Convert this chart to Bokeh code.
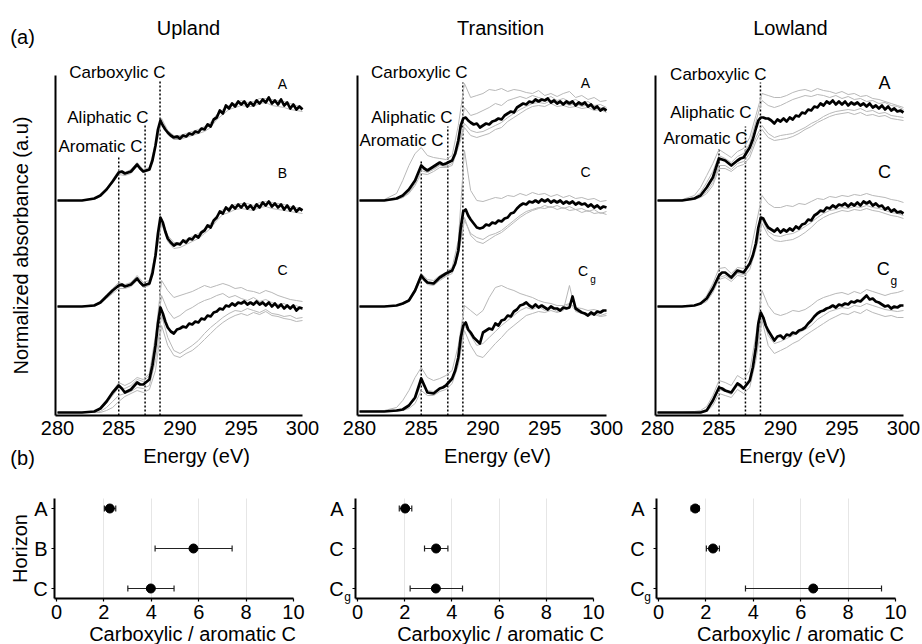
import math
from bokeh.plotting import figure
from bokeh.models import Label, FixedTicker, Whisker, TeeHead, ColumnDataSource, Range1d, Grid
from bokeh.layouts import row, column
from bokeh.embed import file_html
from bokeh.resources import INLINE

FONT = "Liberation Sans"

# ---------------- data: spectra (x = energy, eV; y = offset normalized absorbance) -------------
E_BLACK = [280, 281, 282, 283, 283.5, 284, 284.5, 285, 285.25, 285.5, 286,
           286.5, 286.75, 287, 287.5, 287.75, 288, 288.2, 288.4, 288.6, 288.8, 289,
           289.25, 289.5, 289.75, 290, 290.25, 290.5, 290.75, 291, 291.25, 291.5, 291.75, 292,
           292.25, 292.5, 292.75, 293, 293.25, 293.5, 293.75, 294, 294.25, 294.5, 294.75, 295,
           295.25, 295.5, 295.75, 296, 296.25, 296.5, 296.75, 297, 297.25, 297.5, 297.75, 298,
           298.25, 298.5, 298.75, 299, 299.25, 299.5, 299.75, 300]
E_GREY = [280, 282, 283, 283.5, 284, 284.5, 285, 285.5, 286,
          286.5, 287, 287.5, 288, 288.5, 289, 289.5, 290,
          290.5, 291, 291.5, 292, 292.5, 293, 293.5, 294, 294.5, 295,
          295.5, 296, 296.5, 297, 297.5, 298, 298.5, 299, 299.5, 300]

UP_A = [2.15, 2.15, 2.15, 2.17, 2.20, 2.26, 2.34, 2.43, 2.44, 2.42, 2.44,
        2.51, 2.47, 2.44, 2.46, 2.55, 2.70, 2.86, 2.95, 2.90, 2.86, 2.83,
        2.80, 2.78, 2.79, 2.77, 2.80, 2.79, 2.82, 2.81, 2.84, 2.83, 2.87, 2.86,
        2.91, 2.89, 2.96, 2.98, 3.05, 3.02, 3.10, 3.07, 3.12, 3.09, 3.14, 3.11,
        3.14, 3.09, 3.13, 3.10, 3.15, 3.12, 3.16, 3.13, 3.18, 3.12, 3.15, 3.11,
        3.16, 3.10, 3.13, 3.07, 3.11, 3.06, 3.09, 3.06]
UP_B = [1.09, 1.09, 1.09, 1.10, 1.13, 1.19, 1.25, 1.30, 1.31, 1.29, 1.31,
        1.37, 1.33, 1.30, 1.32, 1.42, 1.60, 1.82, 1.98, 1.93, 1.84, 1.77,
        1.73, 1.70, 1.72, 1.71, 1.75, 1.73, 1.77, 1.76, 1.80, 1.78, 1.83, 1.85,
        1.90, 1.88, 1.95, 1.98, 2.04, 2.02, 2.08, 2.05, 2.10, 2.07, 2.11, 2.08,
        2.12, 2.07, 2.10, 2.06, 2.11, 2.08, 2.13, 2.10, 2.14, 2.09, 2.12, 2.08,
        2.11, 2.06, 2.10, 2.05, 2.09, 2.04, 2.07, 2.05]
UP_C = [0.03, 0.03, 0.03, 0.04, 0.07, 0.14, 0.23, 0.30, 0.27, 0.23, 0.26,
        0.33, 0.31, 0.31, 0.36, 0.50, 0.70, 0.92, 1.08, 1.02, 0.94, 0.88,
        0.84, 0.82, 0.86, 0.87, 0.89, 0.88, 0.92, 0.91, 0.94, 0.93, 0.97, 0.96,
        1.00, 0.99, 1.03, 1.04, 1.07, 1.06, 1.10, 1.09, 1.12, 1.10, 1.13, 1.12,
        1.14, 1.11, 1.13, 1.11, 1.14, 1.11, 1.13, 1.10, 1.13, 1.09, 1.12, 1.08,
        1.11, 1.07, 1.10, 1.07, 1.10, 1.05, 1.08, 1.07]
TR_A = [2.15, 2.15, 2.15, 2.17, 2.20, 2.26, 2.35, 2.50, 2.47, 2.45, 2.49,
        2.53, 2.51, 2.52, 2.55, 2.62, 2.75, 2.90, 2.97, 2.98, 2.95, 2.93,
        2.91, 2.92, 2.88, 2.90, 2.92, 2.91, 2.94, 2.95, 2.97, 2.96, 3.00, 3.02,
        3.04, 3.03, 3.08, 3.10, 3.12, 3.11, 3.14, 3.13, 3.16, 3.14, 3.16, 3.15,
        3.17, 3.13, 3.15, 3.12, 3.14, 3.11, 3.14, 3.12, 3.14, 3.10, 3.13, 3.11,
        3.13, 3.09, 3.11, 3.07, 3.09, 3.05, 3.07, 3.05]
TR_C = [1.09, 1.09, 1.09, 1.10, 1.12, 1.15, 1.25, 1.40, 1.36, 1.33, 1.32,
        1.38, 1.40, 1.42, 1.45, 1.52, 1.65, 1.88, 2.04, 2.06, 2.00, 1.96,
        1.92, 1.88, 1.87, 1.88, 1.91, 1.90, 1.93, 1.92, 1.95, 1.94, 1.97, 1.98,
        2.02, 2.03, 2.07, 2.10, 2.12, 2.11, 2.14, 2.13, 2.15, 2.13, 2.16, 2.14,
        2.16, 2.13, 2.15, 2.13, 2.15, 2.12, 2.14, 2.12, 2.14, 2.11, 2.13, 2.11,
        2.12, 2.09, 2.11, 2.08, 2.10, 2.07, 2.09, 2.08]
TR_CG = [0.04, 0.04, 0.04, 0.05, 0.06, 0.10, 0.18, 0.37, 0.30, 0.23, 0.22,
         0.27, 0.28, 0.30, 0.37, 0.45, 0.58, 0.78, 0.90, 0.93, 0.86, 0.83,
         0.78, 0.75, 0.72, 0.83, 0.85, 0.87, 0.86, 0.92, 0.90, 0.95, 0.96, 1.00,
         0.99, 1.04, 1.06, 1.10, 1.11, 1.13, 1.10, 1.08, 1.11, 1.08, 1.10, 1.08,
         1.06, 1.09, 1.07, 1.07, 1.05, 1.08, 1.07, 1.08, 1.19, 1.07, 1.05, 1.03,
         1.02, 1.00, 1.03, 1.01, 1.04, 1.03, 1.05, 1.05]
LO_A = [2.15, 2.15, 2.15, 2.17, 2.20, 2.28, 2.38, 2.57, 2.56, 2.55, 2.50,
        2.55, 2.57, 2.58, 2.68, 2.76, 2.87, 2.95, 2.98, 2.98, 2.97, 2.97,
        2.95, 2.92, 2.96, 2.94, 2.97, 2.94, 2.98, 2.96, 3.00, 2.99, 3.03, 3.02,
        3.06, 3.05, 3.09, 3.08, 3.12, 3.10, 3.14, 3.12, 3.15, 3.11, 3.14, 3.11,
        3.14, 3.10, 3.13, 3.11, 3.13, 3.10, 3.12, 3.09, 3.12, 3.08, 3.10, 3.07,
        3.10, 3.06, 3.09, 3.05, 3.07, 3.04, 3.05, 3.03]
LO_C = [1.09, 1.09, 1.09, 1.10, 1.12, 1.17, 1.27, 1.40, 1.43, 1.43, 1.38,
        1.45, 1.44, 1.43, 1.52, 1.60, 1.72, 1.88, 1.98, 1.97, 1.92, 1.88,
        1.86, 1.84, 1.87, 1.83, 1.86, 1.84, 1.87, 1.85, 1.89, 1.87, 1.91, 1.92,
        1.96, 1.95, 2.00, 2.02, 2.05, 2.04, 2.08, 2.07, 2.10, 2.08, 2.11, 2.10,
        2.12, 2.09, 2.12, 2.10, 2.13, 2.10, 2.14, 2.12, 2.14, 2.10, 2.12, 2.09,
        2.10, 2.06, 2.08, 2.04, 2.06, 2.03, 2.04, 2.02]
LO_CG = [0.03, 0.03, 0.03, 0.03, 0.03, 0.05, 0.15, 0.28, 0.27, 0.25, 0.23,
         0.32, 0.30, 0.27, 0.35, 0.48, 0.68, 0.92, 1.03, 0.98, 0.90, 0.85,
         0.80, 0.75, 0.79, 0.80, 0.77, 0.81, 0.80, 0.83, 0.82, 0.85, 0.86, 0.88,
         0.92, 0.95, 0.99, 1.02, 1.04, 1.05, 1.07, 1.08, 1.10, 1.08, 1.11, 1.10,
         1.12, 1.11, 1.14, 1.13, 1.15, 1.14, 1.17, 1.20, 1.16, 1.17, 1.14, 1.13,
         1.11, 1.09, 1.10, 1.07, 1.09, 1.08, 1.10, 1.10]

# individual replicate spectra (grey), on E_GREY
UP_A_GREY = [
    [2.15, 2.15, 2.17, 2.21, 2.27, 2.36, 2.45, 2.43, 2.46,
     2.53, 2.46, 2.48, 2.72, 2.97, 2.85, 2.80, 2.80,
     2.82, 2.84, 2.86, 2.89, 2.93, 3.01, 3.06, 3.10, 3.12, 3.15,
     3.13, 3.14, 3.17, 3.17, 3.16, 3.15, 3.14, 3.12, 3.10, 3.08],
    [2.15, 2.15, 2.16, 2.19, 2.25, 2.33, 2.41, 2.40, 2.42,
     2.49, 2.43, 2.45, 2.68, 2.93, 2.81, 2.76, 2.76,
     2.78, 2.80, 2.82, 2.84, 2.88, 2.96, 3.01, 3.06, 3.08, 3.10,
     3.09, 3.09, 3.12, 3.13, 3.10, 3.09, 3.08, 3.06, 3.05, 3.04]]
UP_B_GREY = [
    [1.09, 1.09, 1.11, 1.14, 1.21, 1.27, 1.33, 1.31, 1.33,
     1.40, 1.33, 1.35, 1.63, 1.97, 1.80, 1.73, 1.73,
     1.76, 1.79, 1.82, 1.87, 1.92, 2.00, 2.06, 2.08, 2.11, 2.12,
     2.12, 2.10, 2.13, 2.14, 2.13, 2.12, 2.11, 2.09, 2.08, 2.07],
    [1.09, 1.09, 1.10, 1.12, 1.17, 1.22, 1.27, 1.27, 1.29,
     1.35, 1.28, 1.30, 1.57, 1.92, 1.74, 1.67, 1.68,
     1.71, 1.74, 1.77, 1.82, 1.87, 1.95, 2.01, 2.03, 2.06, 2.07,
     2.06, 2.05, 2.08, 2.09, 2.07, 2.06, 2.05, 2.04, 2.03, 2.02]]
UP_C_GREY = [
    [0.03, 0.03, 0.04, 0.07, 0.14, 0.24, 0.33, 0.30, 0.33,
     0.38, 0.36, 0.42, 0.80, 1.35, 1.25, 1.18, 1.20,
     1.22, 1.24, 1.27, 1.30, 1.28, 1.30, 1.32, 1.30, 1.27, 1.28,
     1.25, 1.24, 1.22, 1.25, 1.23, 1.20, 1.18, 1.16, 1.15, 1.14],
    [0.03, 0.03, 0.04, 0.06, 0.12, 0.20, 0.28, 0.27, 0.30,
     0.36, 0.34, 0.40, 0.75, 1.20, 1.05, 0.97, 1.00,
     1.05, 1.08, 1.12, 1.15, 1.17, 1.20, 1.22, 1.18, 1.20, 1.17,
     1.15, 1.18, 1.14, 1.16, 1.13, 1.11, 1.12, 1.08, 1.10, 1.06],
    [0.03, 0.03, 0.03, 0.04, 0.08, 0.14, 0.20, 0.22, 0.24,
     0.28, 0.27, 0.30, 0.55, 1.00, 0.78, 0.65, 0.62,
     0.66, 0.70, 0.75, 0.82, 0.88, 0.93, 0.98, 1.02, 1.05, 1.04,
     1.07, 1.05, 1.03, 1.06, 1.02, 1.01, 0.99, 1.00, 0.97, 0.98],
    [0.03, 0.03, 0.03, 0.03, 0.05, 0.08, 0.14, 0.19, 0.22,
     0.25, 0.23, 0.26, 0.45, 0.90, 0.70, 0.60, 0.58,
     0.62, 0.65, 0.70, 0.76, 0.82, 0.88, 0.93, 0.97, 1.00, 1.02,
     1.00, 1.03, 1.01, 1.04, 1.00, 0.99, 0.97, 0.96, 0.94, 0.95]]
TR_A_GREY = [
    [2.15, 2.16, 2.22, 2.35, 2.50, 2.62, 2.68, 2.60, 2.58,
     2.57, 2.56, 2.60, 2.90, 3.32, 3.18, 3.20, 3.22,
     3.26, 3.25, 3.27, 3.24, 3.26, 3.25, 3.23, 3.22, 3.25, 3.20,
     3.22, 3.19, 3.22, 3.24, 3.18, 3.20, 3.16, 3.18, 3.14, 3.15],
    [2.15, 2.15, 2.17, 2.20, 2.26, 2.35, 2.47, 2.45, 2.47,
     2.51, 2.50, 2.55, 2.74, 3.08, 3.00, 3.02, 3.05,
     3.08, 3.12, 3.10, 3.15, 3.17, 3.19, 3.17, 3.20, 3.18, 3.16,
     3.19, 3.15, 3.17, 3.14, 3.16, 3.12, 3.14, 3.10, 3.11, 3.08],
    [2.15, 2.15, 2.16, 2.18, 2.23, 2.32, 2.45, 2.43, 2.46,
     2.50, 2.49, 2.52, 2.70, 2.92, 2.85, 2.83, 2.84,
     2.87, 2.90, 2.93, 2.98, 3.02, 3.06, 3.09, 3.12, 3.13, 3.12,
     3.15, 3.12, 3.13, 3.10, 3.12, 3.09, 3.11, 3.06, 3.08, 3.05],
    [2.15, 2.15, 2.16, 2.18, 2.22, 2.30, 2.42, 2.41, 2.44,
     2.48, 2.48, 2.50, 2.68, 2.88, 2.80, 2.78, 2.80,
     2.82, 2.86, 2.88, 2.94, 2.98, 3.02, 3.06, 3.09, 3.10, 3.09,
     3.12, 3.09, 3.10, 3.08, 3.09, 3.07, 3.08, 3.05, 3.06, 3.03]]
TR_C_GREY = [
    [1.09, 1.09, 1.10, 1.12, 1.16, 1.27, 1.42, 1.36, 1.35,
     1.40, 1.43, 1.48, 1.75, 2.65, 2.25, 2.15, 2.14,
     2.16, 2.18, 2.17, 2.20, 2.19, 2.22, 2.20, 2.23, 2.21, 2.22,
     2.19, 2.21, 2.18, 2.20, 2.17, 2.18, 2.16, 2.17, 2.14, 2.15],
    [1.09, 1.09, 1.10, 1.11, 1.14, 1.23, 1.37, 1.31, 1.30,
     1.35, 1.39, 1.42, 1.60, 1.95, 1.82, 1.78, 1.76,
     1.80, 1.82, 1.85, 1.90, 1.95, 2.00, 2.04, 2.06, 2.08, 2.07,
     2.09, 2.06, 2.08, 2.05, 2.06, 2.03, 2.05, 2.02, 2.03, 2.01],
    [1.09, 1.09, 1.10, 1.11, 1.15, 1.24, 1.38, 1.32, 1.31,
     1.36, 1.40, 1.44, 1.62, 1.98, 1.80, 1.74, 1.72,
     1.76, 1.80, 1.83, 1.88, 1.93, 1.98, 2.02, 2.05, 2.07, 2.10,
     2.08, 2.10, 2.07, 2.09, 2.06, 2.07, 2.04, 2.06, 2.02, 2.04]]
TR_CG_GREY = [
    [0.04, 0.05, 0.08, 0.15, 0.25, 0.38, 0.48, 0.38, 0.35,
     0.37, 0.40, 0.45, 0.70, 1.10, 1.05, 1.00, 1.05,
     1.18, 1.28, 1.30, 1.27, 1.25, 1.22, 1.20, 1.18, 1.15, 1.13,
     1.12, 1.10, 1.10, 1.12, 1.08, 1.07, 1.05, 1.06, 1.04, 1.05],
    [0.04, 0.04, 0.04, 0.05, 0.07, 0.12, 0.25, 0.20, 0.20,
     0.24, 0.26, 0.32, 0.50, 0.85, 0.70, 0.60, 0.58,
     0.65, 0.72, 0.78, 0.85, 0.90, 0.95, 1.00, 1.02, 1.04, 1.03,
     1.05, 1.03, 1.05, 1.30, 1.04, 1.02, 1.00, 1.01, 0.99, 1.00],
    [0.04, 0.04, 0.05, 0.06, 0.09, 0.16, 0.32, 0.25, 0.24,
     0.28, 0.30, 0.35, 0.55, 0.90, 0.80, 0.70, 0.72,
     0.78, 0.84, 0.90, 0.95, 1.00, 1.05, 1.08, 1.06, 1.09, 1.05,
     1.08, 1.04, 1.07, 1.12, 1.05, 1.03, 1.01, 1.03, 1.00, 1.02]]
LO_A_GREY = [
    [2.15, 2.16, 2.20, 2.28, 2.40, 2.52, 2.66, 2.62, 2.58,
     2.64, 2.67, 2.78, 3.00, 3.22, 3.20, 3.18, 3.18,
     3.20, 3.23, 3.25, 3.26, 3.24, 3.27, 3.25, 3.24, 3.22, 3.24,
     3.21, 3.22, 3.19, 3.20, 3.17, 3.16, 3.14, 3.12, 3.10, 3.08],
    [2.15, 2.15, 2.18, 2.23, 2.33, 2.44, 2.60, 2.57, 2.53,
     2.59, 2.62, 2.72, 2.94, 3.15, 3.10, 3.08, 3.10,
     3.13, 3.16, 3.18, 3.20, 3.19, 3.21, 3.20, 3.18, 3.20, 3.17,
     3.19, 3.16, 3.17, 3.14, 3.15, 3.12, 3.13, 3.10, 3.09, 3.06],
    [2.15, 2.15, 2.16, 2.19, 2.24, 2.33, 2.50, 2.50, 2.46,
     2.52, 2.54, 2.62, 2.78, 2.90, 2.82, 2.78, 2.80,
     2.81, 2.82, 2.85, 2.88, 2.92, 2.95, 2.99, 3.02, 3.04, 3.05,
     3.06, 3.05, 3.07, 3.04, 3.05, 3.02, 3.03, 3.00, 2.99, 2.98],
    [2.15, 2.15, 2.16, 2.18, 2.22, 2.30, 2.47, 2.47, 2.44,
     2.49, 2.51, 2.58, 2.74, 2.86, 2.78, 2.75, 2.76,
     2.77, 2.79, 2.82, 2.86, 2.89, 2.93, 2.96, 2.99, 3.01, 3.02,
     3.03, 3.01, 3.03, 3.00, 3.01, 2.99, 3.00, 2.97, 2.96, 2.95]]
LO_C_GREY = [
    [1.09, 1.09, 1.10, 1.13, 1.20, 1.32, 1.47, 1.48, 1.42,
     1.48, 1.47, 1.60, 1.90, 2.20, 2.12, 2.08, 2.08,
     2.10, 2.09, 2.12, 2.11, 2.14, 2.17, 2.16, 2.19, 2.18, 2.20,
     2.19, 2.21, 2.20, 2.22, 2.20, 2.19, 2.18, 2.16, 2.15, 2.13],
    [1.09, 1.09, 1.10, 1.11, 1.14, 1.23, 1.36, 1.38, 1.34,
     1.40, 1.39, 1.46, 1.66, 1.92, 1.80, 1.75, 1.74,
     1.75, 1.76, 1.79, 1.83, 1.88, 1.94, 1.98, 2.01, 2.03, 2.05,
     2.04, 2.06, 2.05, 2.07, 2.05, 2.04, 2.02, 2.00, 1.99, 1.97],
    [1.09, 1.09, 1.10, 1.12, 1.16, 1.26, 1.38, 1.40, 1.36,
     1.42, 1.41, 1.50, 1.70, 1.96, 1.84, 1.80, 1.79,
     1.81, 1.82, 1.85, 1.89, 1.93, 1.98, 2.02, 2.05, 2.06, 2.08,
     2.07, 2.09, 2.08, 2.10, 2.08, 2.07, 2.05, 2.03, 2.02, 2.00]]
LO_CG_GREY = [
    [0.03, 0.03, 0.04, 0.05, 0.09, 0.20, 0.35, 0.33, 0.30,
     0.40, 0.36, 0.45, 0.80, 1.25, 1.10, 1.02, 1.00,
     1.02, 1.05, 1.04, 1.06, 1.10, 1.15, 1.18, 1.20, 1.22, 1.23,
     1.21, 1.24, 1.22, 1.26, 1.24, 1.22, 1.20, 1.22, 1.23, 1.25],
    [0.03, 0.03, 0.03, 0.03, 0.04, 0.10, 0.22, 0.20, 0.18,
     0.26, 0.22, 0.28, 0.55, 0.95, 0.70, 0.62, 0.65,
     0.68, 0.72, 0.75, 0.80, 0.84, 0.88, 0.92, 0.96, 0.99, 1.02,
     1.01, 1.04, 1.02, 1.06, 1.03, 1.01, 0.99, 1.00, 0.98, 0.98],
    [0.03, 0.03, 0.03, 0.04, 0.06, 0.13, 0.26, 0.24, 0.21,
     0.30, 0.26, 0.33, 0.62, 1.00, 0.80, 0.72, 0.74,
     0.77, 0.80, 0.83, 0.86, 0.90, 0.96, 1.00, 1.04, 1.06, 1.08,
     1.07, 1.10, 1.09, 1.12, 1.10, 1.08, 1.06, 1.05, 1.04, 1.05]]

PEAK_ENERGY = [285.0, 287.15, 288.37]          # aromatic, aliphatic, carboxylic C
ENERGY_TICKS = [280, 285, 290, 295, 300]

# ---------------- data: carboxylic / aromatic C ratio ----------------
UP_HORIZON = ["A", "B", "C"]
UP_RATIO = [2.25, 5.78, 3.98]
UP_LOW = [2.02, 4.16, 3.01]
UP_HIGH = [2.50, 7.41, 4.96]
TR_HORIZON = ["A", "C", "Cg"]
TR_RATIO = [2.02, 3.33, 3.32]
TR_LOW = [1.77, 2.84, 2.23]
TR_HIGH = [2.30, 3.83, 4.45]
LO_HORIZON = ["A", "C", "Cg"]
LO_RATIO = [1.55, 2.30, 6.53]
LO_LOW = [1.38, 2.02, 3.67]
LO_HIGH = [1.72, 2.57, 9.41]
RATIO_TICKS = [0, 2, 4, 6, 8, 10]

for s in [UP_A, UP_B, UP_C, TR_A, TR_C, TR_CG, LO_A, LO_C, LO_CG]:
    assert len(s) == len(E_BLACK), len(s)
for g in [UP_A_GREY, UP_B_GREY, UP_C_GREY, TR_A_GREY, TR_C_GREY, TR_CG_GREY,
          LO_A_GREY, LO_C_GREY, LO_CG_GREY]:
    for s in g:
        assert len(s) == len(E_GREY), len(s)


def lab(p, text, x, y, size, align="center", angle=0.0):
    p.add_layout(Label(x=x, y=y, text=text, text_font=FONT, text_font_size=size,
                       text_align=align, text_baseline="middle", angle=angle,
                       text_color="black"))


def base_fig(width, height, xr, yr):
    p = figure(width=width, height=height, x_range=Range1d(*xr), y_range=Range1d(*yr),
               output_backend="svg", toolbar_location=None)
    p.min_border_left = 0
    p.min_border_right = 0
    p.min_border_top = 0
    p.min_border_bottom = 0
    p.outline_line_color = None
    p.background_fill_color = "white"
    p.border_fill_color = "white"
    return p


def spectra_panel(width, xr, blacks, greys, tops, texts):
    p = base_fig(width, 480, xr, (-0.65, 4.15))
    p.xgrid.visible = False
    p.ygrid.visible = False
    ax = p.xaxis[0]
    ax.fixed_location = 0
    ax.bounds = (279.8, 300)
    ax.ticker = FixedTicker(ticks=ENERGY_TICKS)
    ax.major_tick_in = 0
    ax.major_tick_out = 0
    ax.minor_tick_in = 0
    ax.minor_tick_out = 0
    ax.minor_tick_line_color = None
    ax.major_label_text_font = FONT
    ax.major_label_text_font_size = "20px"
    ax.major_label_text_color = "black"
    ax.major_label_standoff = 5
    ax.axis_line_width = 2
    ax.axis_line_color = "black"
    ay = p.yaxis[0]
    ay.fixed_location = 279.8
    ay.bounds = (0, 3.4)
    ay.ticker = FixedTicker(ticks=[])
    ay.major_tick_line_color = None
    ay.minor_tick_line_color = None
    ay.axis_line_width = 2
    ay.axis_line_color = "black"

    p.segment(x0=PEAK_ENERGY, y0=[0, 0, 0], x1=PEAK_ENERGY, y1=tops,
              line_color="black", line_width=1.5, line_dash="2 2")
    for group in greys:
        for s in group:
            p.line(E_GREY, s, line_color="#b8b8b8", line_width=1)
    for s in blacks:
        p.line(E_BLACK, s, line_color="black", line_width=2.7, line_join="round")
    for t in texts:
        text, x, y, size = t[:4]
        align = t[4] if len(t) > 4 else "center"
        angle = t[5] if len(t) > 5 else 0.0
        lab(p, text, x, y, size, align, angle)
    return p


def ratio_panel(width, xr, horizons, ratio, low, high, standoff):
    p = base_fig(width, 164, xr, (-0.40, 3.70))
    p.ygrid.visible = False
    p.xgrid.ticker = FixedTicker(ticks=[2, 4, 6, 8])
    p.xgrid.grid_line_color = "#e6e6e6"
    p.xgrid.grid_line_width = 1
    if "cross_bounds" in Grid.properties():
        p.xgrid.cross_bounds = (0.75, 3.25)
    else:
        p.xgrid.visible = False
        p.segment(x0=[2, 4, 6, 8], y0=[0.75] * 4, x1=[2, 4, 6, 8], y1=[3.25] * 4,
                  line_color="#e6e6e6", line_width=1)
    ax = p.xaxis[0]
    ax.fixed_location = 0.75
    ax.bounds = (-0.08, 10)
    ax.ticker = FixedTicker(ticks=RATIO_TICKS)
    ax.major_tick_in = 0
    ax.major_tick_out = 3
    ax.major_tick_line_width = 1.2
    ax.minor_tick_line_color = None
    ax.major_label_text_font = FONT
    ax.major_label_text_font_size = "20px"
    ax.major_label_text_color = "black"
    ax.major_label_standoff = 3
    ax.axis_line_width = 2
    ax.axis_line_color = "black"
    n = len(horizons)
    ypos = [n - i for i in range(n)]
    ay = p.yaxis[0]
    ay.fixed_location = -0.08
    ay.bounds = (0.75, 3.25)
    ay.ticker = FixedTicker(ticks=ypos)
    ay.major_label_overrides = {y: h[0] for y, h in zip(ypos, horizons)}
    ay.major_tick_in = 0
    ay.major_tick_out = 3
    ay.major_tick_line_width = 1.2
    ay.minor_tick_line_color = None
    ay.major_label_text_font = FONT
    ay.major_label_text_font_size = "20px"
    ay.major_label_text_color = "black"
    ay.major_label_standoff = standoff
    ay.axis_line_width = 2
    ay.axis_line_color = "black"

    src = ColumnDataSource(dict(y=ypos, ratio=ratio, low=low, high=high))
    w = Whisker(source=src, base="y", lower="low", upper="high", dimension="width",
                line_color="#222222", line_width=1.2,
                upper_head=TeeHead(size=6, line_color="#222222", line_width=1.2),
                lower_head=TeeHead(size=6, line_color="#222222", line_width=1.2))
    p.add_layout(w)
    p.scatter(x="ratio", y="y", source=src, size=9, fill_color="black", line_color="black")
    return p


up_texts = [("Upland", 290.69, 3.88, "20px"),
            ("Carboxylic C", 288.82, 3.43, "17px", "right"),
            ("Aliphatic C", 287.43, 2.98, "17px", "right"),
            ("Aromatic C", 286.94, 2.69, "17px", "right"),
            ("A", 298.37, 3.32, "14px"),
            ("B", 298.37, 2.43, "14px"),
            ("C", 298.37, 1.46, "14px"),
            ("Energy (eV)", 291.35, -0.40, "20px"),
            ("(a)", 277.15, 3.79, "20px"),
            ("(b)", 277.15, -0.42, "20px"),
            ("Normalized absorbance (a.u)", 277.06, 1.70, "20px", "center", math.pi / 2)]
tr_texts = [("Transition", 291.42, 3.88, "20px"),
            ("Carboxylic C", 288.74, 3.43, "17px", "right"),
            ("Aliphatic C", 287.53, 2.98, "17px", "right"),
            ("Aromatic C", 286.80, 2.75, "17px", "right"),
            ("A", 298.30, 3.33, "14px"),
            ("C", 298.30, 2.44, "14px"),
            ("C", 298.10, 1.45, "14px"),
            ("g", 298.91, 1.365, "10px"),
            ("Energy (eV)", 291.17, -0.40, "20px")]
lo_texts = [("Lowland", 290.81, 3.88, "20px"),
            ("Carboxylic C", 288.86, 3.41, "17px", "right"),
            ("Aliphatic C", 287.64, 3.03, "17px", "right"),
            ("Aromatic C", 287.32, 2.77, "17px", "right"),
            ("A", 298.46, 3.33, "18px"),
            ("C", 298.46, 2.44, "18px"),
            ("C", 298.35, 1.47, "18px"),
            ("g", 299.21, 1.35, "12px"),
            ("Energy (eV)", 290.98, -0.40, "20px")]

f1 = spectra_panel(332, (275.347, 302.449), [UP_A, UP_B, UP_C],
                   [UP_A_GREY, UP_B_GREY, UP_C_GREY], [2.60, 2.90, 3.35], up_texts)
f2 = spectra_panel(304, (277.814, 302.429), [TR_A, TR_C, TR_CG],
                   [TR_A_GREY, TR_C_GREY, TR_CG_GREY], [2.56, 2.89, 3.33], tr_texts)
f3 = spectra_panel(286, (278.293, 301.545), [LO_A, LO_C, LO_CG],
                   [LO_A_GREY, LO_C_GREY, LO_CG_GREY], [2.68, 2.89, 3.33], lo_texts)

b1 = ratio_panel(318, (-2.363, 11.055), UP_HORIZON, UP_RATIO, UP_LOW, UP_HIGH, 4)
b2 = ratio_panel(298, (-1.653, 10.975), TR_HORIZON, TR_RATIO, TR_LOW, TR_HIGH, 9)
b3 = ratio_panel(306, (-1.772, 11.139), LO_HORIZON, LO_RATIO, LO_LOW, LO_HIGH, 9)

lab(b1, "Horizon", -1.52, 2.0, "20px", "center", math.pi / 2)
lab(b1, "Carboxylic / aromatic C", 5.74, -0.125, "20px")
lab(b2, "Carboxylic / aromatic C", 6.06, -0.125, "20px")
lab(b3, "Carboxylic / aromatic C", 5.99, -0.125, "20px")
lab(b2, "g", -0.42, 0.80, "12px")
lab(b3, "g", -0.46, 0.80, "12px")

layout = column(row(f1, f2, f3), row(b1, b2, b3))
open("out.html", "w").write(file_html(layout, INLINE))
